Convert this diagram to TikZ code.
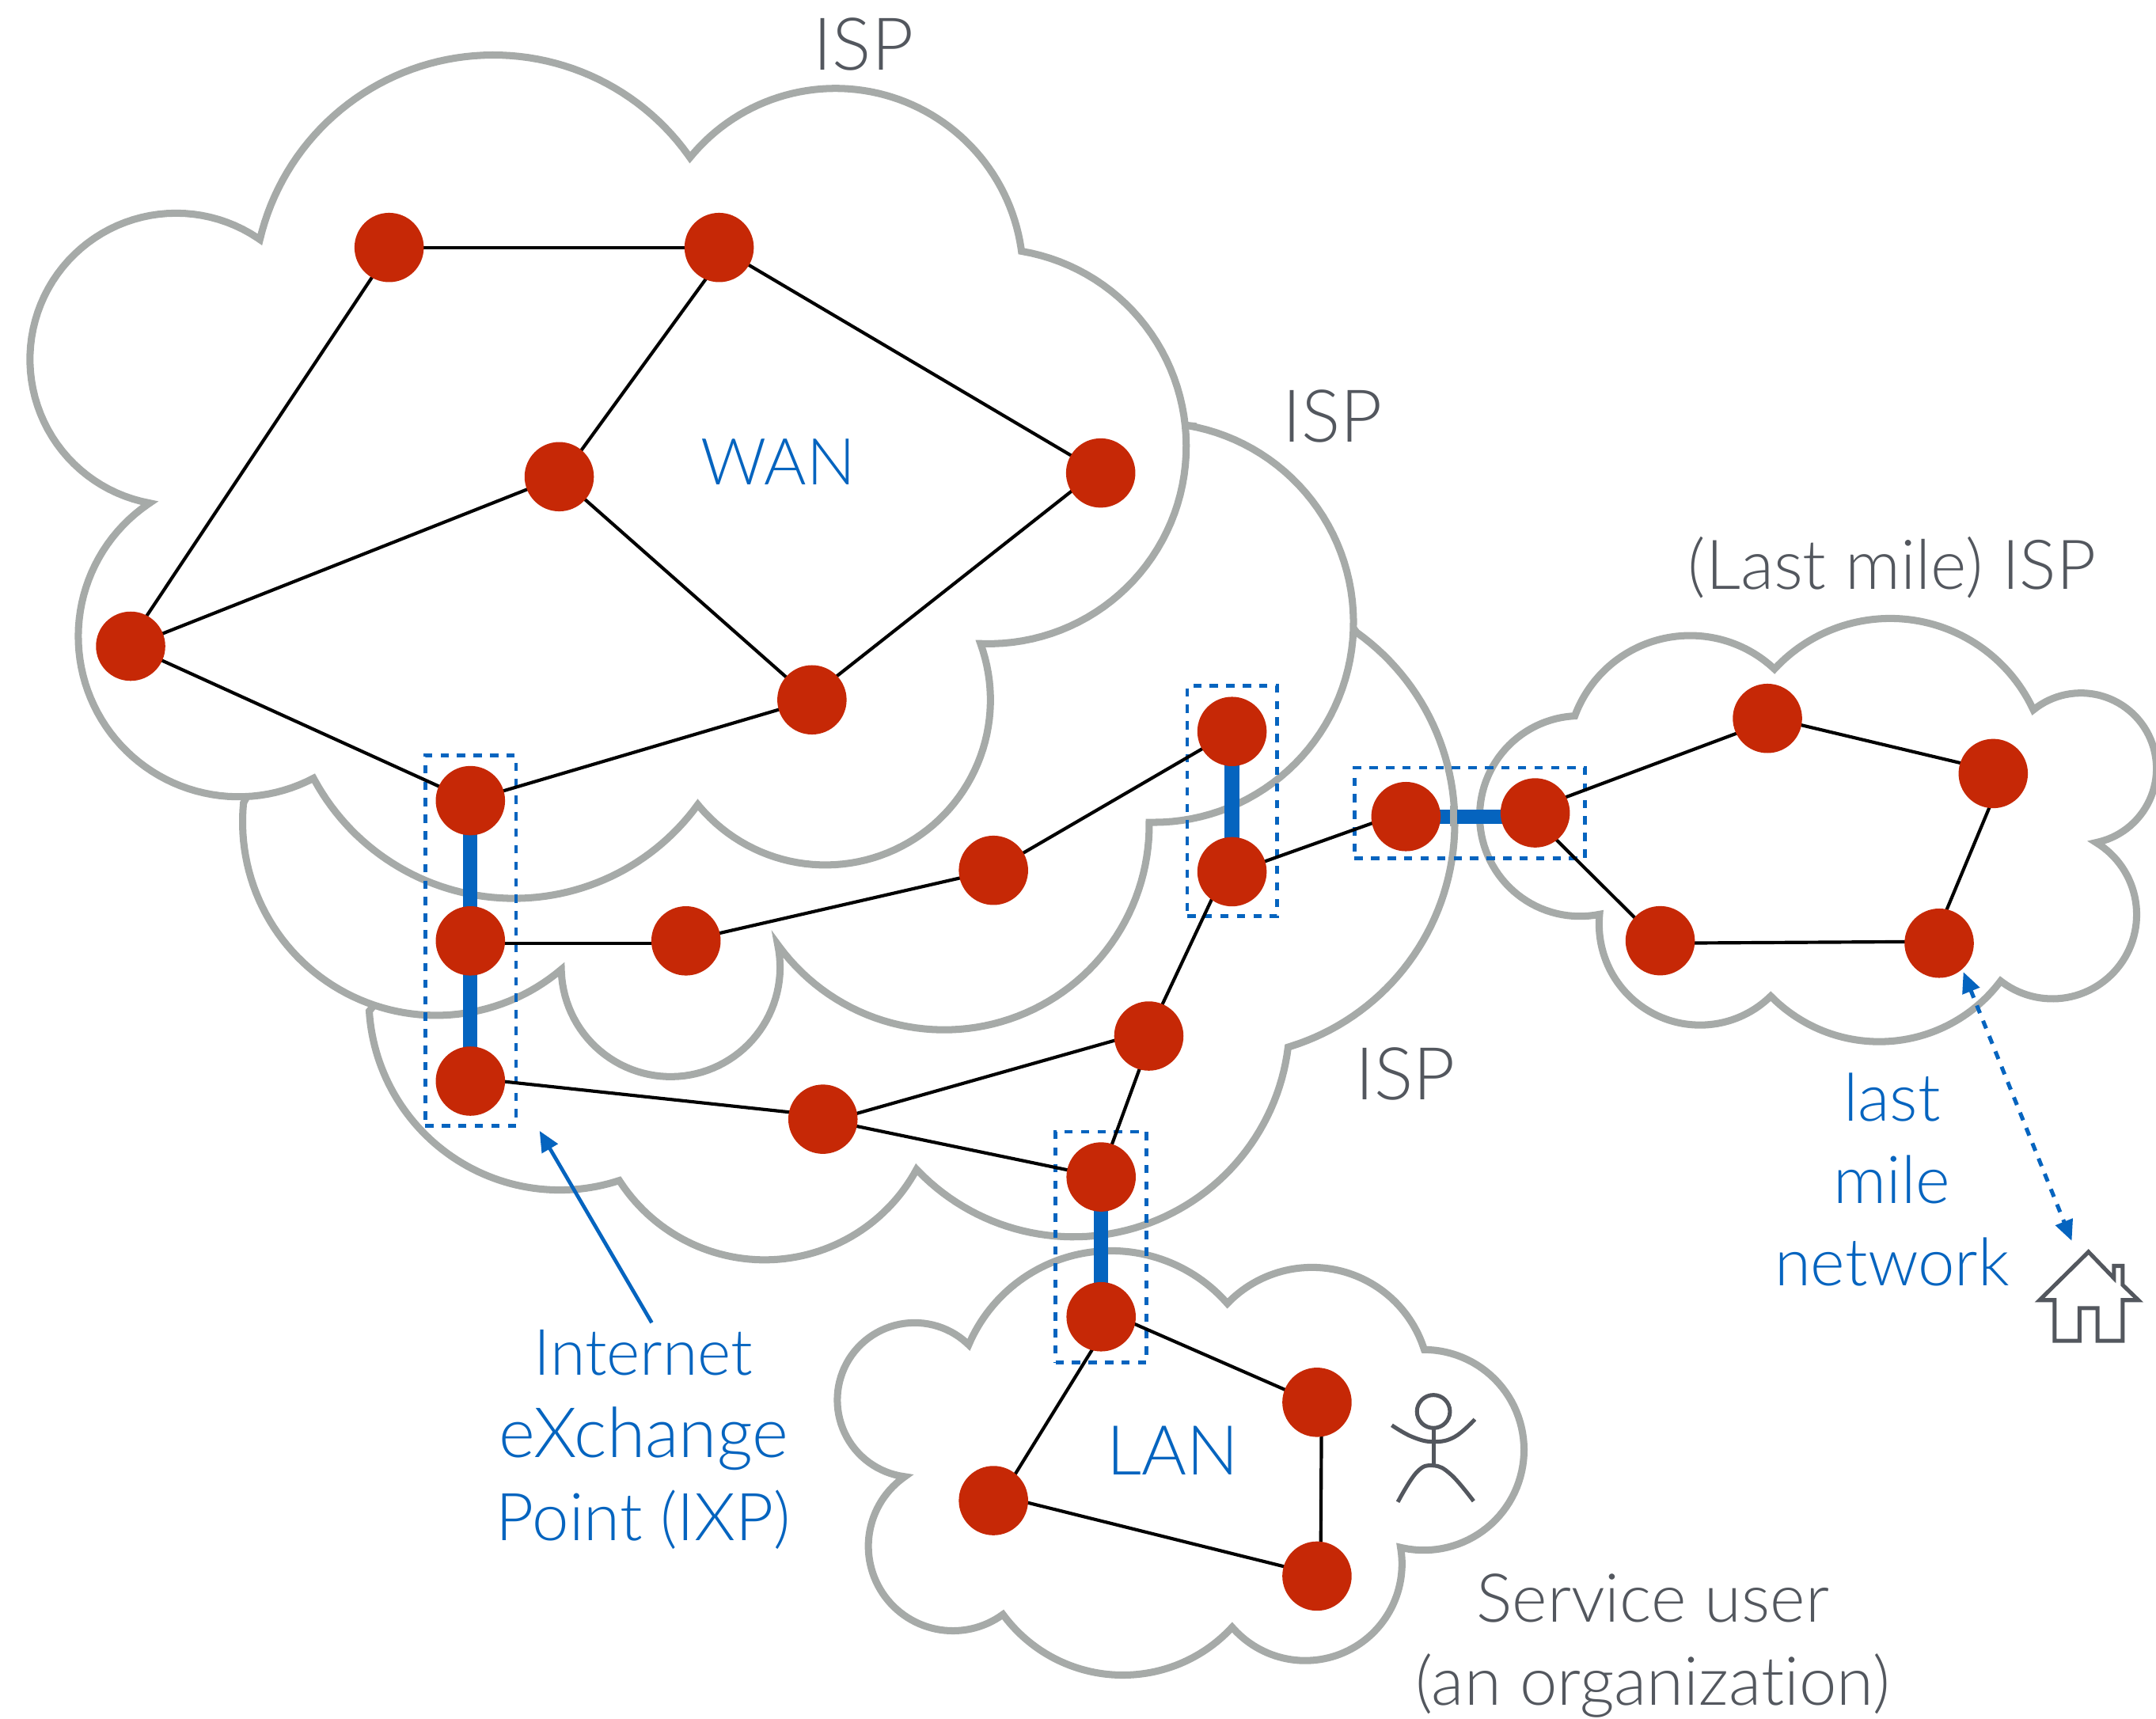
\documentclass[tikz,border=0pt]{standalone}
\usepackage{fontspec}
\setmainfont{Lato}[UprightFont={* Light},Ligatures=NoCommon]
\usetikzlibrary{arrows.meta}
\pgfdeclarelayer{under}
\pgfsetlayers{under,main}
\definecolor{ublue}{HTML}{0564BF}
\definecolor{ugray}{HTML}{A6AAA8}
\definecolor{ured}{HTML}{C62806}
\definecolor{utext}{HTML}{53575E}
% circular lobe through three points, swept clockwise on the page
\newcommand{\lobecalc}[6]{\pgfextra{%
  \pgfmathsetmacro{\bbx}{(#3-#1)/100}\pgfmathsetmacro{\bby}{(#4-#2)/100}%
  \pgfmathsetmacro{\ccx}{(#5-#1)/100}\pgfmathsetmacro{\ccy}{(#6-#2)/100}%
  \pgfmathsetmacro{\dd}{2*(\bbx*\ccy-\bby*\ccx)}%
  \pgfmathsetmacro{\nb}{\bbx*\bbx+\bby*\bby}\pgfmathsetmacro{\nc}{\ccx*\ccx+\ccy*\ccy}%
  \pgfmathsetmacro{\ux}{(\ccy*\nb-\bby*\nc)/\dd}\pgfmathsetmacro{\uy}{(\bbx*\nc-\ccx*\nb)/\dd}%
  \pgfmathsetmacro{\ctx}{#1+100*\ux}\pgfmathsetmacro{\cty}{#2+100*\uy}%
  \pgfmathsetmacro{\rad}{100*veclen(\ux,\uy)}%
  \pgfmathsetmacro{\sa}{atan2(-\uy,-\ux)}%
  \pgfmathsetmacro{\ea}{atan2(\ccy-\uy,\ccx-\ux)}%
  \pgfmathsetmacro{\ea}{\ea<\sa?\ea+360:\ea}%
  \pgfmathsetmacro{\ea}{\ea-115/\rad}%
  \xdef\ctx{\ctx}\xdef\cty{\cty}\xdef\rad{\rad}\xdef\sa{\sa}\xdef\ea{\ea}}}
\newcommand{\firstlobe}[6]{\lobecalc{#1}{#2}{#3}{#4}{#5}{#6} plot[domain=\sa:\ea,samples=61,variable=\t] ({\ctx+\rad*cos(\t)},{\cty+\rad*sin(\t)})}
\newcommand{\lobe}[6]{\lobecalc{#1}{#2}{#3}{#4}{#5}{#6} -- plot[domain=\sa:\ea,samples=61,variable=\t] ({\ctx+\rad*cos(\t)},{\cty+\rad*sin(\t)})}
\newcommand{\fs}[1]{\fontsize{#1}{60}\selectfont}
\tikzset{
  cloud/.style={draw=ugray,fill=white,line width=5.2pt,line join=miter,miter limit=6},
  router/.style={circle,fill=ured,inner sep=0pt,minimum size=50.4pt},
  link/.style={black,line width=2.4pt},
  ixplink/.style={ublue,line width=10.5pt},
  ixpbox/.style={draw=ublue,line width=2.7pt,dash pattern=on 6pt off 6pt,inner sep=0pt},
  bluelab/.style={text=ublue,align=center},
  graylab/.style={text=utext,align=center},
  sketch/.style={draw=utext,line width=2.9pt,line join=miter},
  bluearrow/.style={ublue,line width=2.7pt,-{Triangle[length=15pt,width=13pt]}}
}
\begin{document}
\begin{tikzpicture}[x=1pt,y=-1pt]
\useasboundingbox (0,0) rectangle (1568,1250);
\clip (0,0) rectangle (1568,1250);
\begin{pgfonlayer}{under}
% ISP 3
\draw[cloud] (975,445) -- (986.7,460)
 \lobe{986.7}{460}{1057.2}{582}{936.8}{761.6}
 \lobe{936.8}{761.6}{842.8}{886.8}{666.6}{850.5}
 \lobe{666.6}{850.5}{555}{916.3}{450.4}{858.6}
 \lobe{450.4}{858.6}{308.3}{824.2}{268.4}{733.4}
 -- (285,715) -- cycle;
% ISP 2
\draw[cloud] (850,308) -- (863.4,309.4)
 \lobe{863.4}{309.4}{983.8}{440}{835.8}{598.1}
 \lobe{835.8}{598.1}{748.9}{735.4}{565.6}{687}
 \lobe{565.6}{687}{484.5}{783}{408.2}{705.1}
 \lobe{408.2}{705.1}{267.2}{729.3}{177.3}{582}
 -- (190,560) -- cycle;
% WAN
\draw[cloud]
 \firstlobe{189}{174.2}{358}{40}{501.8}{114.6}
 \lobe{501.8}{114.6}{610}{64.3}{742.9}{182.7}
 \lobe{742.9}{182.7}{862}{310}{713.1}{468.1}
 \lobe{713.1}{468.1}{675.9}{602.3}{507.5}{585.2}
 \lobe{507.5}{585.2}{372.3}{653.4}{228}{566}
 \lobe{228}{566}{63}{500}{108.8}{365.9}
 \lobe{108.8}{365.9}{21.8}{263.7}{189}{174.2}
 -- cycle;
% Last mile
\draw[cloud]
 \firstlobe{1145.3}{520.7}{1226}{462.3}{1290.5}{486.6}
 \lobe{1290.5}{486.6}{1377}{449.8}{1478.8}{516.3}
 \lobe{1478.8}{516.3}{1550}{518}{1524.5}{612.8}
 \lobe{1524.5}{612.8}{1545}{697}{1455}{713.5}
 \lobe{1455}{713.5}{1368.5}{757.6}{1287.8}{724.5}
 \lobe{1287.8}{724.5}{1232}{745.4}{1163.3}{665}
 \lobe{1163.3}{665}{1076.1}{593.4}{1145.3}{520.7}
 -- cycle;
% LAN
\draw[cloud]
 \firstlobe{704.5}{978.1}{809.8}{909.7}{892.6}{948}
 \lobe{892.6}{948}{956.5}{921.8}{1035.8}{981.6}
 \lobe{1035.8}{981.6}{1108.3}{1051.2}{1018.6}{1125.5}
 \lobe{1018.6}{1125.5}{977.2}{1202}{896.1}{1183.5}
 \lobe{896.1}{1183.5}{815}{1218.3}{729.4}{1174.2}
 \lobe{729.4}{1174.2}{645}{1163}{658}{1074}
 \lobe{658}{1074}{612}{1000}{704.5}{978.1}
 -- cycle;
% IXP boxes
\node[ixpbox,minimum width=66pt,minimum height=269.1pt] (boxA) at (342.3,684.1) {};
\node[ixpbox,minimum width=65.4pt,minimum height=167.5pt] (boxB) at (896.2,582.6) {};
\node[ixpbox,minimum width=167.5pt,minimum height=65.8pt] (boxC) at (1068.9,591.3) {};
\node[ixpbox,minimum width=66.3pt,minimum height=167.9pt] (boxD) at (800.8,907) {};
\end{pgfonlayer}
% routers
\node[router] (a) at (283,180) {};
\node[router] (b) at (523,180) {};
\node[router] (c) at (406.7,346.7) {};
\node[router] (d) at (800.5,344) {};
\node[router] (e) at (95,470) {};
\node[router] (f) at (590.5,509) {};
\node[router] (g) at (342.1,582.3) {};
\node[router] (h) at (342.1,684.3) {};
\node[router] (i) at (498.9,684.3) {};
\node[router] (j) at (722.5,633) {};
\node[router] (k) at (896,532) {};
\node[router] (l) at (896,634) {};
\node[router] (m) at (342.1,786.3) {};
\node[router] (n) at (598.5,814) {};
\node[router] (o) at (835.5,753.5) {};
\node[router] (p) at (800.8,856) {};
\node[router] (q) at (1022.5,593.9) {};
\node[router] (r) at (1116.5,591.2) {};
\node[router] (s) at (1285.4,522.5) {};
\node[router] (t) at (1449.6,562.6) {};
\node[router] (u) at (1410.3,686) {};
\node[router] (v) at (1207.4,684.2) {};
\node[router] (w) at (800.8,957.7) {};
\node[router] (xx) at (957.8,1019.9) {};
\node[router] (yy) at (957.8,1146.3) {};
\node[router] (zz) at (722.5,1091.4) {};
% links (ends slightly off centre, as drawn in the original)
\begin{pgfonlayer}{under}
\foreach \p/\q in {a/b,b/d,c/e,c/f,e/g,g/f,i/j,j/k,n/p}
  \draw[link] (\p.center) -- (\q.center);
\draw[link] ([shift={(2,0)}]a.center) -- ([shift={(-3,0)}]e.center);
\draw[link] ([shift={(7,0)}]b.center) -- ([shift={(2.1,0)}]c.center);
\draw[link] ([shift={(0,-3.5)}]d.center) -- ([shift={(0,-3)}]f.center);
\draw[link] ([shift={(0,1.8)}]h.center) -- ([shift={(0,1.8)}]i.center);
\draw[link] ([shift={(-5.3,0)}]l.center) -- ([shift={(-1,0)}]o.center);
\draw[link] ([shift={(0,1)}]l.center) -- ([shift={(0,-3.9)}]q.center);
\draw[link] ([shift={(0,-2.3)}]m.center) -- ([shift={(0,-2.5)}]n.center);
\draw[link] ([shift={(0,2.8)}]n.center) -- ([shift={(0,-3.8)}]o.center);
\draw[link] ([shift={(2,0)}]o.center) -- ([shift={(-0.8,0)}]p.center);
\draw[link] ([shift={(0,-3.1)}]r.center) -- ([shift={(0,2.5)}]s.center);
\draw[link] ([shift={(0,-1)}]s.center) -- ([shift={(0,-2)}]t.center);
\draw[link] ([shift={(7.5,0)}]t.center) -- ([shift={(-4.7,0)}]u.center);
\draw[link] ([shift={(0,-1.2)}]u.center) -- ([shift={(0,1.8)}]v.center);
\draw[link] ([shift={(0,1.6)}]v.center) -- ([shift={(0,4.3)}]r.center);
\draw[link] ([shift={(0,-5.4)}]w.center) -- ([shift={(0,1)}]xx.center);
\draw[link] ([shift={(3.4,0)}]xx.center) -- ([shift={(2.6,0)}]yy.center);
\draw[link] ([shift={(0,-1)}]yy.center) -- ([shift={(0,-4.7)}]zz.center);
\draw[link] ([shift={(3.9,0)}]zz.center) -- ([shift={(8.3,0)}]w.center);
\foreach \p/\q in {g/h,h/m,k/l,p/w}
  \draw[ixplink] (\p.center) -- (\q.center);
\draw[ixplink] (q.center) -- (q.center -| r.center);
% ISP 3 outline passes over the link between q and r
\coordinate (ovA) at (1057.3,586);
\coordinate (ovB) at (1057.3,601);
\draw[draw=ugray,line width=5.2pt] (ovA) -- (ovB);
\end{pgfonlayer}
% arrows
\coordinate (ixpTail) at (474,962);
\coordinate (ixpTip) at (392.4,822.5);
\draw[bluearrow] (ixpTail) -- (ixpTip);
\coordinate (lmA) at (1427.9,706.9);
\coordinate (lmB) at (1506.7,902.5);
\draw[ublue,line width=2.9pt,dash pattern=on 6pt off 6pt,{Triangle[length=15pt,width=13pt]}-{Triangle[length=15pt,width=13pt]}] (lmA) -- (lmB);
% house
\draw[sketch] (1518.9,910.5) -- (1483.3,945.6) -- (1494.2,945.6) -- (1494.2,975.2) -- (1512.4,975.2) -- (1512.4,951.4) -- (1525.5,951.4) -- (1525.5,975.2) -- (1543.7,975.2) -- (1543.7,945.6) -- (1555.2,945.6) -- (1543.7,934.5) -- (1543.7,920.7) -- (1537.4,920.7) -- (1537.4,929.7) -- cycle;
% person
\draw[sketch] (1042.5,1026.6) circle (12);
\draw[sketch] plot[smooth,tension=.7] coordinates {(1012.2,1036.6)(1027,1045)(1042.5,1048.6)(1058,1045)(1072.6,1032.3)};
\draw[sketch] (1042.5,1038.5) -- (1042.5,1065.9);
\draw[sketch] plot[smooth,tension=.7] coordinates {(1016.6,1092.4)(1030.4,1070.7)(1042.5,1065.9)(1055.4,1072.6)(1071.7,1091.8)};
% labels
\node[graylab,font=\fs{53}] (l1) at (628,32) {ISP};
\node[graylab,font=\fs{53}] (l2) at (969,303) {ISP};
\node[graylab,font=\fs{53}] (l3) at (1022,781) {ISP};
\node[graylab,font=\fs{50}] (l4) at (1376,413) {(Last mile) ISP};
\node[bluelab,font=\fs{47}] (l5) at (566,336) {WAN};
\node[bluelab,font=\fs{50}] (l6) at (853,1055) {LAN};
\node[bluelab,font=\fs{48}] (l7) at (1376,858) {last\\mile\\network};
\node[bluelab,font=\fs{48}] (l8) at (468,1047) {{\fs{46.5}Internet}\\{\fs{50.5}eXchange}\\Point (IXP)};
\node[graylab,font=\fs{49}] (l9) at (1202,1197) {Service user\\(an organization)};
\end{tikzpicture}
\end{document}
